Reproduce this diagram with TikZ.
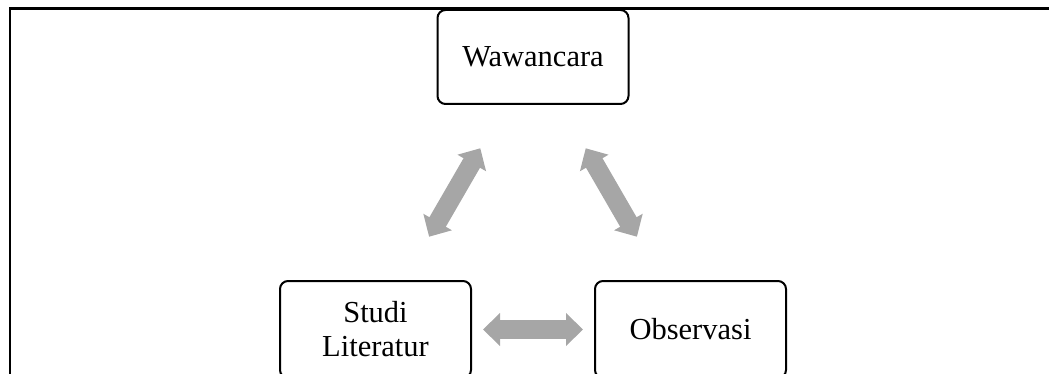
\documentclass[tikz,border=0pt]{standalone}
\usepackage{fontspec}
\setmainfont{Liberation Serif}
\usetikzlibrary{arrows.meta}
\definecolor{arrowgray}{RGB}{166,166,166}
\begin{document}
\begin{tikzpicture}[x=1pt,y=-1pt,
  box/.style={draw=black,line width=2pt,rounded corners=8pt,minimum width=191pt,minimum height=94pt,
    inner sep=0pt,align=center,font=\fontsize{30.5}{34}\selectfont},
  bigarrow/.style={draw=arrowgray,line width=19pt,
    {Triangle[width=32pt,length=17pt,fill=arrowgray]}-{Triangle[width=32pt,length=17pt,fill=arrowgray]}}]
\useasboundingbox (0,0) rectangle (1049,374);
\draw[line width=2.4pt] (9.7,374) -- (9.7,8.7) -- (1049,8.7);
\node[box] (w) at (533,57) {Wawancara};
\node[box,minimum height=97pt] (s) at (375.5,329.5) {Studi\\Literatur};
\node[box,minimum height=97pt] (o) at (690.5,329.5) {Observasi};
\draw[bigarrow,shorten <=11pt,shorten >=11pt] (s) -- (o);
\draw[bigarrow,shorten <=50pt,shorten >=50pt] (w) -- (s);
\draw[bigarrow,shorten <=50pt,shorten >=50pt] (w) -- (o);
\end{tikzpicture}
\end{document}
